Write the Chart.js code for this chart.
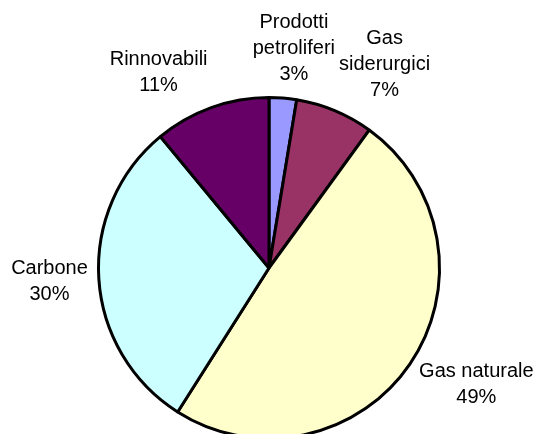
<!DOCTYPE html>
<html>
<head>
<meta charset="utf-8">
<script src="https://cdn.jsdelivr.net/npm/chart.js@4/dist/chart.umd.min.js"></script>
<style>
html, body { margin: 0; padding: 0; background: #ffffff; overflow: hidden; }
#wrap { position: relative; width: 535px; height: 460px; }
</style>
</head>
<body>
<div id="wrap"><canvas id="c"></canvas></div>
<script>
// Data (clockwise from 12 o'clock)
const categories = [['Prodotti', 'petroliferi'], ['Gas', 'siderurgici'], ['Gas naturale'], ['Carbone'], ['Rinnovabili']];
const shares = [2.6, 7.4, 49, 30, 11];
const sliceColors = ['#9999FF', '#993366', '#FFFFCC', '#CCFFFF', '#660066'];

const FONT = '20px "Liberation Sans", Arial, sans-serif';
const LINE_H = 26;
const GAP = 11;

const labelPlugin = {
  id: 'outsideLabels',
  afterDatasetsDraw(chart) {
    const ctx = chart.ctx;
    const meta = chart.getDatasetMeta(0);
    const data = chart.data.datasets[0].data;
    const total = data.reduce((a, b) => a + b, 0);
    ctx.save();
    ctx.font = FONT;
    ctx.fillStyle = '#000000';
    ctx.textAlign = 'center';
    ctx.textBaseline = 'middle';
    meta.data.forEach((arc, i) => {
      const p = arc.getProps(['x', 'y', 'startAngle', 'endAngle', 'outerRadius'], true);
      const a = (p.startAngle + p.endAngle) / 2;
      const lines = [].concat(chart.data.labels[i], Math.round(data[i] / total * 100) + '%');
      const w = Math.max(...lines.map(t => ctx.measureText(t).width));
      const h = lines.length * LINE_H;
      const r = p.outerRadius + GAP;
      const px = p.x + Math.cos(a) * r;
      const py = p.y + Math.sin(a) * r;
      const k = Math.max(-1, Math.min(1, Math.cos(a) * 3));
      const cx = px + k * w / 2;
      const cy = py + Math.sin(a) * h / 2;
      lines.forEach((t, j) => {
        ctx.fillText(t, cx, cy - h / 2 + LINE_H / 2 + j * LINE_H);
      });
    });
    ctx.restore();
  }
};

new Chart(document.getElementById('c'), {
  type: 'pie',
  data: {
    labels: categories,
    datasets: [{
      data: shares,
      backgroundColor: sliceColors,
      borderColor: '#000000',
      borderWidth: 3
    }]
  },
  options: {
    responsive: true,
    maintainAspectRatio: false,
    animation: false,
    layout: { padding: { left: 97, right: 94, top: 96, bottom: 20 } },
    plugins: {
      legend: { display: false },
      tooltip: { enabled: false }
    }
  },
  plugins: [labelPlugin]
});
</script>
</body>
</html>
